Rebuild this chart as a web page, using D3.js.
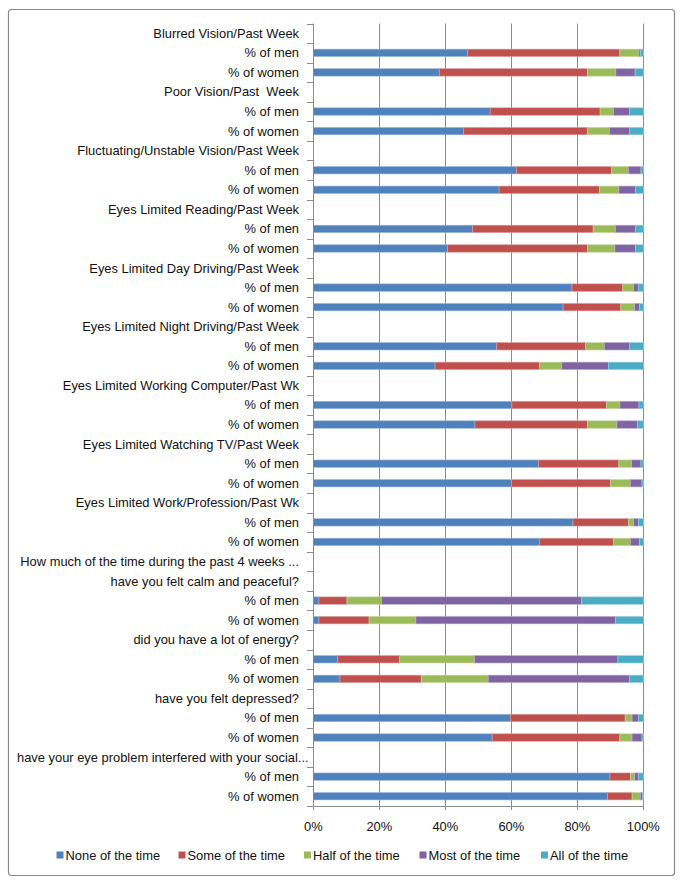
<!DOCTYPE html>
<html>
<head>
<meta charset="utf-8">
<script src="https://cdn.jsdelivr.net/npm/d3@7"></script>
<style>
  html, body { margin: 0; padding: 0; background: #fff; }
  svg { display: block; }
  text { font-family: "Liberation Sans", Arial, sans-serif; fill: #111; }
</style>
</head>
<body>
<svg id="chart" width="683" height="884"></svg>
<script>
// ---------- DATA ----------
const rowLabels = [
  "Blurred Vision/Past Week", "% of men", "% of women",
  "Poor Vision/Past  Week", "% of men", "% of women",
  "Fluctuating/Unstable Vision/Past Week", "% of men", "% of women",
  "Eyes Limited Reading/Past Week", "% of men", "% of women",
  "Eyes Limited Day Driving/Past Week", "% of men", "% of women",
  "Eyes Limited Night Driving/Past Week", "% of men", "% of women",
  "Eyes Limited Working Computer/Past Wk", "% of men", "% of women",
  "Eyes Limited Watching TV/Past Week", "% of men", "% of women",
  "Eyes Limited Work/Profession/Past Wk", "% of men", "% of women",
  "How much of the time during the past 4 weeks ...",
  "have you felt calm and peaceful?", "% of men", "% of women",
  "did you have a lot of energy?", "% of men", "% of women",
  "have you felt depressed?", "% of men", "% of women",
  "have your eye problem interfered with your social...", "% of men", "% of women"
];

const seriesNames = ["None of the time", "Some of the time", "Half of the time", "Most of the time", "All of the time"];
const seriesColors = ["#4F81BD", "#C0504D", "#9BBB59", "#8064A2", "#4BACC6"];

// null = header row (no bar)
const noneOfTime = [null,46.8,38.2, null,53.6,45.6, null,61.6,56.3, null,48.3,40.7, null,78.4,75.7, null,55.6,36.9, null,60.2,49.0, null,68.3,60.1, null,78.7,68.6, null, null,1.7,1.7, null,7.4,8.1, null,59.7,54.2, null,89.9,89.4];
const someOfTime = [null,46.1,44.9, null,33.3,37.5, null,28.8,30.4, null,36.5,42.4, null,15.4,17.5, null,26.9,31.7, null,28.6,34.1, null,24.3,30.0, null,16.8,22.4, null, null,8.5,15.2, null,18.8,24.6, null,34.8,38.7, null,6.2,7.4];
const halfOfTime = [null,5.8,8.6,  null,4.1,6.7,   null,5.1,5.9,   null,6.8,8.3,   null,3.3,4.2,   null,5.7,6.7,   null,4.1,8.9,   null,3.9,6.0,   null,1.6,5.1,   null, null,10.5,14.2, null,22.7,20.3, null,2.1,3.7, null,1.3,2.5];
const mostOfTime = [null,0.5,5.8,  null,4.9,6.1,   null,3.8,5.1,   null,6.1,6.3,   null,1.5,1.5,   null,7.7,14.1,  null,5.8,6.3,   null,2.8,3.5,   null,1.5,2.8,   null, null,60.6,60.5, null,43.4,42.9, null,2.0,3.0, null,1.2,0.6];
const allOfTime  = [null,0.8,2.5,  null,4.1,4.1,   null,0.7,2.3,   null,2.3,2.3,   null,1.4,1.1,   null,4.1,10.6,  null,1.3,1.7,   null,0.7,0.4,   null,1.4,1.1,   null, null,18.7,8.4,  null,7.7,4.1,  null,1.4,0.4, null,1.4,0.3];

const xTickValues = [0, 0.2, 0.4, 0.6, 0.8, 1];

// ---------- BUILD TABLE ----------
const seriesArrays = [noneOfTime, someOfTime, halfOfTime, mostOfTime, allOfTime];
const table = rowLabels.map((label, i) => {
  const r = { idx: i, label: label, header: noneOfTime[i] === null };
  seriesNames.forEach((s, k) => { r[s] = seriesArrays[k][i] === null ? 0 : seriesArrays[k][i]; });
  return r;
});

const stack = d3.stack().keys(seriesNames).offset(d3.stackOffsetExpand);
const stacked = stack(table);

// ---------- LAYOUT ----------
const svg = d3.select("#chart");
const plot = { left: 313.3, right: 643.3, top: 23.5, bottom: 806 };
const fs = 12.9;

const x = d3.scaleLinear().domain([0, 1]).range([plot.left, plot.right]);
const y = d3.scaleBand().domain(table.map(d => d.idx)).range([plot.top, plot.bottom])
  .paddingInner(0.62).paddingOuter(0.31);

// outer border
svg.append("rect")
  .attr("x", 8.5).attr("y", 9.5).attr("width", 666).attr("height", 866)
  .attr("rx", 3).attr("fill", "#fff").attr("stroke", "#8a8a8a").attr("stroke-width", 1.2);

// vertical gridlines
svg.append("g").selectAll("line")
  .data(xTickValues.slice(1))
  .join("line")
  .attr("x1", d => Math.round(x(d)) + 0.5).attr("x2", d => Math.round(x(d)) + 0.5)
  .attr("y1", plot.top).attr("y2", plot.bottom)
  .attr("stroke", "#8c8c8c").attr("stroke-width", 1);

// bars
svg.append("g").selectAll("g")
  .data(stacked)
  .join("g")
  .attr("fill", (d, i) => seriesColors[i])
  .attr("stroke", (d, i) => d3.interpolateRgb(seriesColors[i], "#ffffff")(0.45))
  .attr("stroke-width", 0.6)
  .selectAll("rect")
  .data(d => d.filter(p => !p.data.header && p[1] > p[0]))
  .join("rect")
  .attr("x", p => x(p[0]))
  .attr("width", p => Math.max(0, x(p[1]) - x(p[0])))
  .attr("y", p => y(p.data.idx))
  .attr("height", y.bandwidth());

// left axis line + tick marks at category boundaries
const step = y.step();
const gAxisY = svg.append("g");
gAxisY.append("line")
  .attr("x1", Math.round(plot.left) + 0.5).attr("x2", Math.round(plot.left) + 0.5)
  .attr("y1", plot.top).attr("y2", plot.bottom)
  .attr("stroke", "#8c8c8c");
gAxisY.selectAll("line.tk")
  .data(d3.range(rowLabels.length + 1))
  .join("line").attr("class", "tk")
  .attr("x1", Math.round(plot.left) - 6).attr("x2", Math.round(plot.left) + 0.5)
  .attr("y1", i => Math.round(plot.top + i * step) + 0.5)
  .attr("y2", i => Math.round(plot.top + i * step) + 0.5)
  .attr("stroke", "#8c8c8c");

// category labels
const labelEnd = 299;
gAxisY.selectAll("text")
  .data(table)
  .join("text")
  .attr("x", labelEnd)
  .attr("y", d => y(d.idx) + y.bandwidth() / 2)
  .attr("dy", "0.35em")
  .attr("text-anchor", "end")
  .style("white-space", "pre")
  .attr("font-size", fs)
  .text(d => d.label)
  .each(function () {
    const w = this.getComputedTextLength();
    if (labelEnd - w < 17) {
      d3.select(this).attr("text-anchor", "start").attr("x", 17);
    }
  });

// bottom axis
const gAxisX = svg.append("g");
gAxisX.append("line")
  .attr("x1", plot.left).attr("x2", plot.right)
  .attr("y1", Math.round(plot.bottom) + 0.5).attr("y2", Math.round(plot.bottom) + 0.5)
  .attr("stroke", "#8c8c8c");
gAxisX.selectAll("line.tk")
  .data(xTickValues)
  .join("line").attr("class", "tk")
  .attr("x1", d => Math.round(x(d)) + 0.5).attr("x2", d => Math.round(x(d)) + 0.5)
  .attr("y1", plot.bottom).attr("y2", plot.bottom + 4)
  .attr("stroke", "#8c8c8c");
gAxisX.selectAll("text")
  .data(xTickValues)
  .join("text")
  .attr("x", d => x(d))
  .attr("y", 826.5)
  .attr("dy", "0.35em")
  .attr("text-anchor", "middle")
  .attr("font-size", fs)
  .text(d => d3.format(".0%")(d));

// legend
const legendX = [56.5, 178.5, 304, 419.5, 541];
const legend = svg.append("g").selectAll("g")
  .data(seriesNames)
  .join("g")
  .attr("transform", (d, i) => `translate(${legendX[i]},855)`);
legend.append("rect")
  .attr("x", 0).attr("y", -3.5).attr("width", 7).attr("height", 7)
  .attr("fill", (d, i) => seriesColors[i]);
legend.append("text")
  .attr("x", 9).attr("y", 0).attr("dy", "0.35em")
  .attr("font-size", fs)
  .text(d => d);
</script>
</body>
</html>
